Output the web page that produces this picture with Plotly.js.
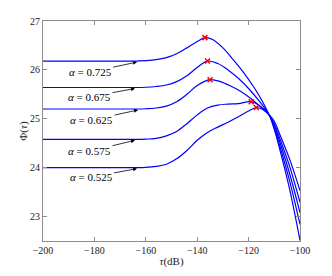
<!DOCTYPE html>
<html>
<head>
<meta charset="utf-8">
<script src="https://cdn.plot.ly/plotly-3.0.1.min.js"></script>
<style>html,body{margin:0;padding:0;background:#fff;}#chart{width:332px;height:276px;}</style>
</head>
<body>
<div id="chart"></div>
<script>
// Curve data
const alphaLabels = ['0.725', '0.675', '0.625', '0.575', '0.525'];

const tau725 = [-200,-180,-164,-160,-156,-152,-148,-144,-140,-137,-134,-130,-126,-122,-118,-115,-112,-110,-108,-104,-100];
const phi725 = [26.18,26.18,26.18,26.19,26.21,26.25,26.33,26.45,26.58,26.66,26.62,26.45,26.21,25.95,25.65,25.39,25.08,24.78,24.40,23.55,22.51];

const tau675 = [-200,-180,-164,-160,-156,-152,-148,-144,-140,-136,-132,-128,-124,-120,-116,-112,-110,-108,-104,-100];
const phi675 = [25.64,25.64,25.64,25.645,25.66,25.69,25.76,25.88,26.05,26.18,26.13,26.00,25.83,25.62,25.37,25.08,24.82,24.47,23.72,22.84];

const tau625 = [-200,-180,-164,-160,-156,-152,-148,-144,-140,-135,-131,-127,-123,-119,-115.5,-112,-110,-108,-104,-100];
const phi625 = [25.20,25.20,25.20,25.205,25.22,25.26,25.35,25.50,25.68,25.80,25.76,25.67,25.56,25.41,25.25,25.08,24.86,24.55,23.87,23.08];

const tau575 = [-200,-180,-164,-160,-156,-152,-148,-144,-140,-136,-132,-128,-124,-119,-115.5,-112,-110,-108,-104,-100];
const phi575 = [24.58,24.58,24.58,24.585,24.60,24.65,24.74,24.90,25.08,25.22,25.28,25.30,25.31,25.35,25.26,25.08,24.90,24.62,24.02,23.29];

const tau525 = [-200,-180,-164,-160,-156,-152,-148,-144,-140,-136,-132,-128,-124,-120,-117,-114.5,-112,-110,-108,-104,-100];
const phi525 = [24.00,24.00,24.00,24.005,24.025,24.07,24.18,24.35,24.56,24.72,24.83,24.93,25.04,25.16,25.23,25.19,25.08,24.95,24.70,24.17,23.53];

const peakTau = [-137, -136, -135, -119, -117];
const peakPhi = [26.66, 26.18, 25.80, 25.35, 25.23];

// Arrow heads (data coords) for labels
const arrowTau = [-163.4, -164.2, -163.0, -164.2, -163.4];
const arrowPhi = [26.16, 25.62, 25.18, 24.56, 23.98];

const curves = [[tau725, phi725], [tau675, phi675], [tau625, phi625], [tau575, phi575], [tau525, phi525]];

const traces = curves.map(c => ({
  x: c[0], y: c[1], type: 'scatter', mode: 'lines',
  line: {color: '#0000ff', width: 1.2, shape: 'spline', smoothing: 1},
  hoverinfo: 'skip', showlegend: false
}));
traces.push({
  x: peakTau, y: peakPhi, type: 'scatter', mode: 'markers',
  marker: {symbol: 'x-thin', size: 5, line: {color: '#ff0000', width: 1.5}, color: '#ff0000'},
  showlegend: false
});

const axOff = [[-47, 10], [-45.5, 8.5], [-46.5, 10], [-45.5, 11], [-46, 8.5]];
const annotations = alphaLabels.map((a, i) => ({
  x: arrowTau[i], y: arrowPhi[i], xref: 'x', yref: 'y',
  text: '<i>α</i> = ' + a,
  showarrow: true, arrowhead: 2, arrowsize: 1, arrowwidth: 0.8, arrowcolor: '#000',
  ax: axOff[i][0], ay: axOff[i][1],
  font: {family: 'Liberation Serif, serif', size: 11, color: '#000'}
}));

const axisCommon = {
  showline: true, linecolor: '#8c8c8c', linewidth: 1, mirror: 'ticks',
  ticks: 'inside', ticklen: 4, tickcolor: '#8c8c8c', showgrid: false, zeroline: false,
  tickfont: {family: 'Liberation Serif, serif', size: 10, color: '#222'}
};

const layout = {
  width: 332, height: 276,
  margin: {l: 43, r: 32, t: 21, b: 35},
  paper_bgcolor: '#fff', plot_bgcolor: '#fff',
  xaxis: Object.assign({}, axisCommon, {
    range: [-200, -100], tickvals: [-200, -180, -160, -140, -120, -100],
    title: {text: '<i>τ</i>(dB)', font: {family: 'Liberation Serif, serif', size: 11, color: '#222'}, standoff: 2}
  }),
  yaxis: Object.assign({}, axisCommon, {
    range: [22.5, 27], tickvals: [23, 24, 25, 26, 27],
    title: {text: 'Φ(<i>τ</i>)', font: {family: 'Liberation Serif, serif', size: 11, color: '#222'}, standoff: 0}
  }),
  annotations: annotations
};

Plotly.newPlot('chart', traces, layout, {displayModeBar: false, staticPlot: true});
</script>
</body>
</html>
